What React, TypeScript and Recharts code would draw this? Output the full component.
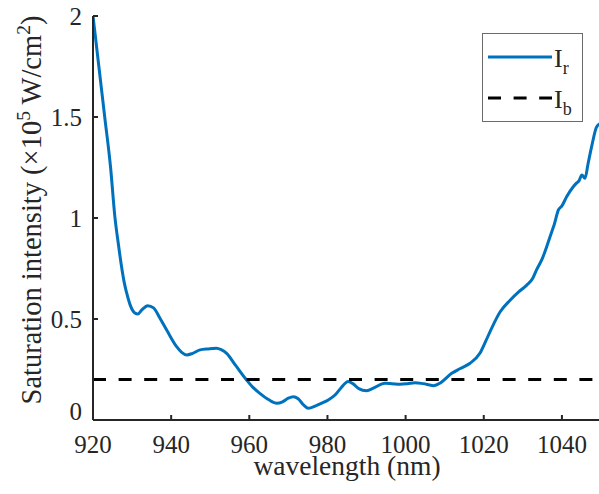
import React from 'react';
import { LineChart, Line, XAxis, YAxis, Legend } from 'recharts';

const wavelengths = [
  920, 921.5, 923, 924.5, 925.6, 926.5, 927.3, 928, 928.6, 929.5, 930.7, 931.5, 932.5, 934, 935.5,
  937.1, 939, 941.4, 942.7, 944, 945.5, 947.4, 949.5, 951.6, 952.8, 954.2, 956.5, 959.3, 961, 962.7,
  965, 967, 968.5, 970, 971.3, 972.5, 974, 975.1, 977, 978.5, 980.2, 982, 983.5, 985.3, 986.5, 988,
  990, 992, 994.7, 996.5, 998.6, 1000.5, 1002.4, 1004.5, 1007.1, 1009, 1011.8, 1014, 1016.5, 1019,
  1020.5, 1022, 1024.2, 1026.8, 1029, 1031, 1032.5, 1033.5, 1035, 1036.1, 1037.4, 1038, 1039.1, 1040,
  1041.2, 1042.9, 1043.6, 1044.4, 1045.1, 1045.9, 1046.7, 1047.6, 1048.9, 1050,
];

const irValues = [
  2.0, 1.75, 1.5, 1.25, 1.006, 0.87, 0.76, 0.68, 0.63, 0.57, 0.53, 0.525, 0.545, 0.566, 0.555,
  0.505, 0.44, 0.363, 0.335, 0.322, 0.33, 0.347, 0.352, 0.355, 0.348, 0.33, 0.27, 0.198, 0.16, 0.132,
  0.1, 0.083, 0.09, 0.108, 0.115, 0.105, 0.072, 0.058, 0.07, 0.083, 0.099, 0.125, 0.16, 0.19, 0.18, 0.155,
  0.145, 0.16, 0.182, 0.18, 0.177, 0.18, 0.185, 0.18, 0.17, 0.185, 0.231, 0.255, 0.281, 0.33,
  0.39, 0.454, 0.536, 0.594, 0.635, 0.668, 0.7, 0.743, 0.8, 0.858, 0.932, 0.965, 1.04, 1.06,
  1.105, 1.155, 1.17, 1.185, 1.213, 1.197, 1.27, 1.353, 1.452, 1.47,
];

const ibWavelengths = [920, 1050];
const ibValues = [0.2, 0.2];

const xTicks = [920, 940, 960, 980, 1000, 1020, 1040];
const yTicks = [0, 0.5, 1, 1.5, 2];
const yTickLabels = ['0', '0.5', '1', '1.5', '2'];

const irData = wavelengths.map((wl, i) => ({ wl, ir: irValues[i] }));
const ibData = ibWavelengths.map((wl, i) => ({ wl, ib: ibValues[i] }));

const FONT = 'Liberation Serif, Times New Roman, serif';
const AXIS_COLOR = '#262626';
const BLUE = '#0072BD';

const txt = (size: number) => ({ fontFamily: FONT, fontSize: size, fill: AXIS_COLOR });

const BottomTick = (props: any) => {
  const { x, y, payload } = props;
  return (
    <g>
      <line x1={x} x2={x} y1={y} y2={y - 5} stroke={AXIS_COLOR} strokeWidth={2} />
      <text x={x} y={y + 33} textAnchor="middle" style={txt(25)}>
        {payload.value}
      </text>
    </g>
  );
};

const TopTick = (props: any) => {
  const { x, y } = props;
  return <line x1={x} x2={x} y1={y} y2={y + 5} stroke={AXIS_COLOR} strokeWidth={2} />;
};

const LeftTick = (props: any) => {
  const { x, y, payload } = props;
  const idx = yTicks.indexOf(payload.value);
  const label = idx >= 0 ? yTickLabels[idx] : String(payload.value);
  const shift = payload.value === 0 ? -9 : 0;
  return (
    <g>
      <line x1={x} x2={x + 5} y1={y} y2={y} stroke={AXIS_COLOR} strokeWidth={2} />
      <text x={x - 11} y={y + shift + 8.5} textAnchor="end" style={txt(25)}>
        {label}
      </text>
    </g>
  );
};

const RightTick = (props: any) => {
  const { x, y } = props;
  return <line x1={x} x2={x - 5} y1={y} y2={y} stroke={AXIS_COLOR} strokeWidth={2} />;
};

const YLabel = (props: any) => {
  const { viewBox } = props;
  const cx = viewBox.x + 41;
  const cy = viewBox.y + viewBox.height / 2 - 8;
  return (
    <text x={cx} y={cy} transform={`rotate(-90, ${cx}, ${cy})`} textAnchor="middle" style={txt(28.5)}>
      <tspan>Saturation intensity (×10</tspan>
      <tspan dy={-11} style={{ fontSize: 19.5 }}>5</tspan>
      <tspan dy={11}> W/cm</tspan>
      <tspan dy={-11} style={{ fontSize: 19.5 }}>2</tspan>
      <tspan dy={11}>)</tspan>
    </text>
  );
};

const XLabel = (props: any) => {
  const { viewBox } = props;
  const cx = viewBox.x + viewBox.width / 2;
  const cy = viewBox.y + 55;
  return (
    <text x={cx} y={cy} textAnchor="middle" style={txt(27.5)}>
      wavelength (nm)
    </text>
  );
};

const LegendBox = () => (
  <div
    style={{
      width: 99,
      height: 87,
      border: '1px solid #6b6b6b',
      background: '#ffffff',
      boxSizing: 'content-box',
    }}
  >
    <svg width={99} height={87} style={{ display: 'block' }}>
      <line x1={5} x2={69} y1={23} y2={23} stroke={BLUE} strokeWidth={3} />
      <text x={71} y={33} style={txt(26)}>
        I
        <tspan dy={7} style={{ fontSize: 18 }}>r</tspan>
      </text>
      <line x1={5} x2={69} y1={64} y2={64} stroke="#000" strokeWidth={3} strokeDasharray="13 12.6" />
      <text x={71} y={74} style={txt(26)}>
        I
        <tspan dy={7} style={{ fontSize: 18 }}>b</tspan>
      </text>
    </svg>
  </div>
);

export default function App() {
  return (
    <div style={{ position: 'absolute', left: 0, top: 0, width: 599, height: 494, overflow: 'hidden', background: '#fff' }}>
      <LineChart width={602} height={494} margin={{ top: 16, right: 1, left: 0, bottom: 0 }}>
        <XAxis
          xAxisId="bottom"
          dataKey="wl"
          type="number"
          domain={[920, 1050]}
          ticks={xTicks}
          allowDataOverflow
          height={74}
          tickSize={0}
          tickMargin={0}
          tick={<BottomTick />}
          axisLine={{ stroke: AXIS_COLOR, strokeWidth: 2 }}
          tickLine={false}
          label={<XLabel />}
        />
        <XAxis
          xAxisId="top"
          orientation="top"
          dataKey="wl"
          type="number"
          domain={[920, 1050]}
          ticks={xTicks}
          allowDataOverflow
          height={0}
          tickSize={0}
          tickMargin={0}
          tick={<TopTick />}
          axisLine={{ stroke: AXIS_COLOR, strokeWidth: 2 }}
          tickLine={false}
        />
        <YAxis
          yAxisId="left"
          type="number"
          domain={[0, 2]}
          ticks={yTicks}
          allowDataOverflow
          width={93}
          tickSize={0}
          tickMargin={0}
          tick={<LeftTick />}
          axisLine={{ stroke: AXIS_COLOR, strokeWidth: 2 }}
          tickLine={false}
          label={<YLabel />}
        />
        <YAxis
          yAxisId="right"
          orientation="right"
          type="number"
          domain={[0, 2]}
          ticks={yTicks}
          allowDataOverflow
          width={0}
          tickSize={0}
          tickMargin={0}
          tick={<RightTick />}
          axisLine={{ stroke: AXIS_COLOR, strokeWidth: 2 }}
          tickLine={false}
        />
        <Legend
          layout="horizontal"
          verticalAlign="middle"
          align="center"
          content={<LegendBox />}
          wrapperStyle={{ position: 'absolute', left: 482, top: 33, width: 101, height: 89 }}
        />
        <Line
          xAxisId="bottom"
          yAxisId="left"
          data={irData}
          dataKey="ir"
          name="Ir"
          type="monotone"
          stroke={BLUE}
          strokeWidth={3}
          dot={false}
          isAnimationActive={false}
        />
        <Line
          xAxisId="bottom"
          yAxisId="left"
          data={ibData}
          dataKey="ib"
          name="Ib"
          type="linear"
          stroke="#000000"
          strokeWidth={3}
          strokeDasharray="13 12.6"
          dot={false}
          isAnimationActive={false}
        />
      </LineChart>
    </div>
  );
}
